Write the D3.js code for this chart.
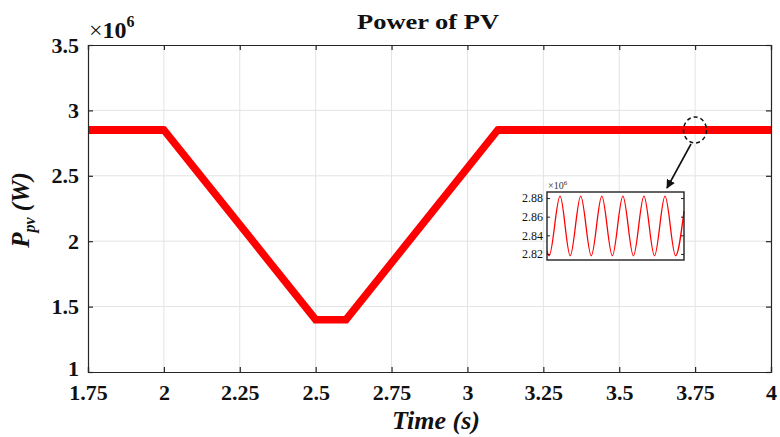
<!DOCTYPE html>
<html><head><meta charset="utf-8">
<script src="https://cdn.jsdelivr.net/npm/d3@7/dist/d3.min.js"></script>
<style>
html,body{margin:0;padding:0;background:#fff;}
svg{display:block;}
text{font-family:"Liberation Serif","Times New Roman",serif;}
</style>
</head><body>
<svg id="chart" width="780" height="437"></svg>
<script>
// ---- data ----
const timeS = [1.75, 2.0, 2.5, 2.6, 3.1, 4.0];
const powerPV = [2.85, 2.85, 1.4, 1.4, 2.85, 2.85]; // x10^6 W
const xTicks = [1.75, 2, 2.25, 2.5, 2.75, 3, 3.25, 3.5, 3.75, 4];
const xTickLabels = ["1.75", "2", "2.25", "2.5", "2.75", "3", "3.25", "3.5", "3.75", "4"];
const yTicks = [1, 1.5, 2, 2.5, 3, 3.5];
const yTickLabels = ["1", "1.5", "2", "2.5", "3", "3.5"];
// inset (zoom of ripple)
const insetTime = [3.720, 3.721, 3.7262, 3.731, 3.736, 3.741, 3.746, 3.751, 3.756, 3.761, 3.766, 3.771, 3.776, 3.781, 3.785];
const insetPower = [2.823, 2.818, 2.882, 2.818, 2.882, 2.818, 2.882, 2.818, 2.882, 2.818, 2.882, 2.818, 2.882, 2.818, 2.866];
const insetTicks = [2.82, 2.84, 2.86, 2.88];
const insetTickLabels = ["2.82", "2.84", "2.86", "2.88"];

// ---- layout ----
const svg = d3.select("#chart");
const L = 88, R = 771, T = 45, B = 372;
const x = d3.scaleLinear().domain([1.75, 4]).range([L, R]);
const y = d3.scaleLinear().domain([1, 3.5]).range([B, T]);

// grid
const grid = svg.append("g");
grid.selectAll("line.gx").data(xTicks.slice(1, -1)).enter().append("line")
  .attr("x1", d => x(d)).attr("x2", d => x(d)).attr("y1", T).attr("y2", B)
  .attr("stroke", "#e3e3e3").attr("stroke-width", 1);
grid.selectAll("line.gy").data(yTicks.slice(1, -1)).enter().append("line")
  .attr("y1", d => y(d)).attr("y2", d => y(d)).attr("x1", L).attr("x2", R)
  .attr("stroke", "#e3e3e3").attr("stroke-width", 1);

// main line (thick because of the ripple band)
const line = d3.line().x((d, i) => x(timeS[i])).y((d, i) => y(powerPV[i]));
svg.append("path").datum(powerPV).attr("d", line)
  .attr("fill", "none").attr("stroke", "#ff0000").attr("stroke-width", 7.5)
  .attr("stroke-linejoin", "miter");
// ripple band (widens the trace on the high-power parts)
const band = d3.area().x((d, i) => x(timeS[i]))
  .y0((d, i) => y(powerPV[i] * 1.0105)).y1((d, i) => y(powerPV[i] * 0.9895));
svg.append("path").datum(powerPV).attr("d", band).attr("fill", "#ff0000");

// axes (MATLAB style box with inward ticks)
const tk = 5;
const axB = svg.append("g").attr("transform", `translate(0,${B})`)
  .call(d3.axisBottom(x).tickValues(xTicks).tickSize(-tk).tickFormat((d, i) => xTickLabels[i]).tickPadding(12));
const axT = svg.append("g").attr("transform", `translate(0,${T})`)
  .call(d3.axisTop(x).tickValues(xTicks).tickSize(-tk).tickFormat(""));
const axL = svg.append("g").attr("transform", `translate(${L},0)`)
  .call(d3.axisLeft(y).tickValues(yTicks).tickSize(-tk).tickFormat((d, i) => yTickLabels[i]).tickPadding(9));
const axR = svg.append("g").attr("transform", `translate(${R},0)`)
  .call(d3.axisRight(y).tickValues(yTicks).tickSize(-tk).tickFormat(""));
[axB, axT, axL, axR].forEach(a => {
  a.select(".domain").attr("stroke", "#262626").attr("stroke-width", 1.2);
  a.selectAll(".tick line").attr("stroke", "#262626").attr("stroke-width", 1.2);
});
axB.selectAll(".tick text").attr("font-size", 22).attr("font-weight", "bold").attr("fill", "#111")
  .attr("font-family", "Liberation Serif, serif");
axL.selectAll(".tick text").attr("font-size", 22).attr("font-weight", "bold").attr("fill", "#111")
  .attr("font-family", "Liberation Serif, serif");
axL.selectAll(".tick").filter(d => d === 1).select("text").attr("dy", "0.15em");

// exponent label
const ex = svg.append("text").attr("x", 89).attr("y", 38).attr("font-size", 24).attr("fill", "#111");
ex.append("tspan").text("×");
ex.append("tspan").attr("font-weight", "bold").text("10");
ex.append("tspan").attr("font-size", 16).attr("font-weight", "bold").attr("dy", -11).text("6");

// title
svg.append("text").attr("x", 428).attr("y", 29).attr("text-anchor", "middle")
  .attr("font-size", 21).attr("font-weight", "bold").attr("fill", "#111")
  .attr("textLength", 142).attr("lengthAdjust", "spacingAndGlyphs").text("Power of PV");

// x label
svg.append("text").attr("x", 436).attr("y", 429).attr("text-anchor", "middle")
  .attr("font-size", 26).attr("font-weight", "bold").attr("font-style", "italic").attr("fill", "#111").text("Time (s)");

// y label
const yl = svg.append("text").attr("transform", "translate(29,210) rotate(-90)").attr("text-anchor", "middle")
  .attr("font-size", 25).attr("font-weight", "bold").attr("font-style", "italic").attr("fill", "#111");
yl.append("tspan").text("P");
yl.append("tspan").attr("font-size", 16).attr("dy", 6).text("pv");
yl.append("tspan").attr("dy", -6).text(" (W)");

// dashed ellipse + arrow
svg.append("ellipse").attr("cx", 695).attr("cy", 130).attr("rx", 11.5).attr("ry", 13)
  .attr("fill", "none").attr("stroke", "#111").attr("stroke-width", 1.5).attr("stroke-dasharray", "4,3");
svg.append("defs").append("marker").attr("id", "ah").attr("viewBox", "0 0 10 10")
  .attr("refX", 9).attr("refY", 5).attr("markerWidth", 9).attr("markerHeight", 9)
  .attr("orient", "auto").attr("markerUnits", "userSpaceOnUse")
  .append("path").attr("d", "M0,0 L10,5 L0,10 z").attr("fill", "#111");
svg.append("line").attr("x1", 691).attr("y1", 144).attr("x2", 667).attr("y2", 188)
  .attr("stroke", "#111").attr("stroke-width", 1.6).attr("marker-end", "url(#ah)");

// inset
const iL = 547, iR = 684, iT = 192, iB = 260;
const ix = d3.scaleLinear().domain([3.72, 3.785]).range([iL, iR]);
const iy = d3.scaleLinear().domain([2.8135, 2.8865]).range([iB, iT]);
svg.append("rect").attr("x", iL).attr("y", iT).attr("width", iR - iL).attr("height", iB - iT).attr("fill", "#fff");
const iline = d3.line().x((d, i) => ix(insetTime[i])).y((d, i) => iy(insetPower[i])).curve(d3.curveMonotoneX);
svg.append("path").datum(insetPower).attr("d", iline)
  .attr("fill", "none").attr("stroke", "#ff0000").attr("stroke-width", 1.3);
const iax = svg.append("g").attr("transform", `translate(${iL},0)`)
  .call(d3.axisLeft(iy).tickValues(insetTicks).tickSize(-3).tickFormat((d, i) => insetTickLabels[i]).tickPadding(4));
iax.select(".domain").remove();
iax.selectAll(".tick line").attr("stroke", "#222");
iax.selectAll(".tick text").attr("font-size", 12).attr("fill", "#111").attr("font-family", "Liberation Serif, serif");
const iaxR = svg.append("g").attr("transform", `translate(${iR},0)`)
  .call(d3.axisRight(iy).tickValues(insetTicks).tickSize(-3).tickFormat(""));
iaxR.select(".domain").remove();
iaxR.selectAll(".tick line").attr("stroke", "#222");
svg.append("rect").attr("x", iL).attr("y", iT).attr("width", iR - iL).attr("height", iB - iT)
  .attr("fill", "none").attr("stroke", "#222").attr("stroke-width", 1.4);
const iex = svg.append("text").attr("x", 548).attr("y", 189).attr("font-size", 10).attr("fill", "#333");
iex.append("tspan").text("×10");
iex.append("tspan").attr("font-size", 7).attr("dy", -4).text("6");
</script>
</body></html>
